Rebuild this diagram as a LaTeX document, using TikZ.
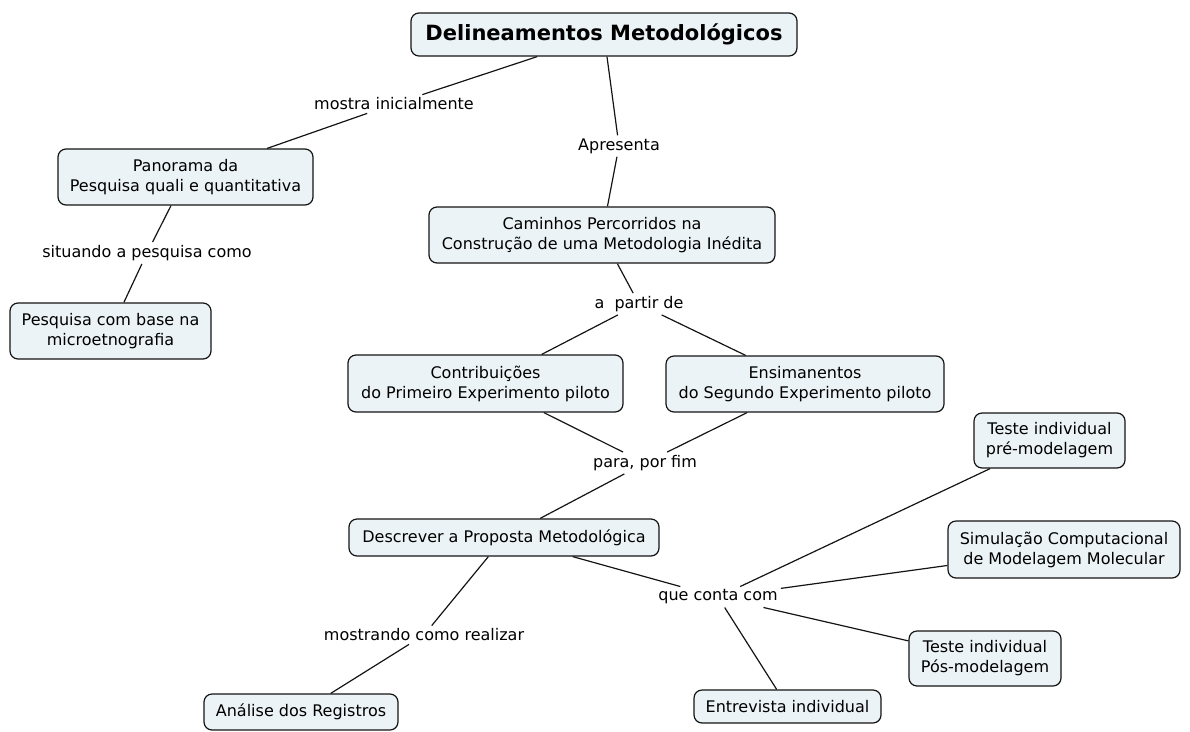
\documentclass[tikz,border=0pt]{standalone}
\usepackage{fontspec}
\setmainfont{DejaVu Sans}
\definecolor{conceptfill}{RGB}{236,243,246}
\definecolor{edgeink}{RGB}{20,20,20}
\begin{document}
\begin{tikzpicture}[x=1pt,y=-1pt,
  concept/.style={draw=edgeink, line width=1.2pt, rounded corners=8pt, fill=conceptfill,
    align=center, inner sep=0pt, font=\fontsize{16}{20}\selectfont},
  linkword/.style={align=center, inner sep=3pt, font=\fontsize{16}{20}\selectfont},
  conn/.style={line width=1.2pt, draw=edgeink}]
\useasboundingbox (0,0) rectangle (1190,731);

% concepts
\node[concept, minimum width=386pt, minimum height=43pt, font=\fontsize{21}{25}\selectfont\bfseries]
  (title) at (604,34.5) {Delineamentos Metodológicos};
\node[concept, minimum width=255pt, minimum height=56pt] (pan) at (185.5,177)
  {Panorama da\\Pesquisa quali e quantitativa};
\node[concept, minimum width=201pt, minimum height=56pt] (micro) at (110.5,331)
  {Pesquisa com base na\\microetnografia};
\node[concept, minimum width=346pt, minimum height=56pt] (cam) at (602,235)
  {Caminhos Percorridos na\\Construção de uma Metodologia Inédita};
\node[concept, minimum width=275pt, minimum height=57pt] (prim) at (485.5,383.5)
  {Contribuições\\do Primeiro Experimento piloto};
\node[concept, minimum width=278pt, minimum height=56pt] (seg) at (805,384)
  {Ensimanentos\\do Segundo Experimento piloto};
\node[concept, minimum width=310pt, minimum height=37pt] (desc) at (504,537.5)
  {Descrever a Proposta Metodológica};
\node[concept, minimum width=151pt, minimum height=55pt] (tpre) at (1049.5,440.5)
  {Teste individual\\pré-modelagem};
\node[concept, minimum width=232pt, minimum height=57pt] (sim) at (1064,549.5)
  {Simulação Computacional\\de Modelagem Molecular};
\node[concept, minimum width=152pt, minimum height=55pt] (tpos) at (985,658.5)
  {Teste individual\\Pós-modelagem};
\node[concept, minimum width=187pt, minimum height=33pt] (entr) at (787.5,706.5)
  {Entrevista individual};
\node[concept, minimum width=194pt, minimum height=36pt] (anal) at (301,712)
  {Análise dos Registros};

% linking phrases
\node[linkword] (lmostra) at (394,104) {mostra inicialmente};
\node[linkword] (lapres) at (619,146) {Apresenta};
\node[linkword] (lsitu) at (147,253) {situando a pesquisa como};
\node[linkword] (lpartir) at (639,304) {a~ partir de};
\node[linkword] (lpara) at (645,463) {para, por fim};
\node[linkword] (lconta) at (718,597) {que conta com};
\node[linkword] (lreal) at (424,635) {mostrando como realizar};

% connectors
\draw[conn] (title) -- (lmostra);
\draw[conn] (lmostra) -- (pan);
\draw[conn] (title) -- (lapres);
\draw[conn] (lapres) -- (cam);
\draw[conn] (pan) -- (lsitu);
\draw[conn] (lsitu) -- (micro);
\draw[conn] (cam) -- (lpartir);
\draw[conn] (lpartir) -- (prim);
\draw[conn] (lpartir) -- (seg);
\draw[conn] (prim) -- (lpara);
\draw[conn] (seg) -- (lpara);
\draw[conn] (lpara) -- (desc);
\draw[conn] (desc) -- (lconta);
\draw[conn] (lconta) -- (tpre);
\draw[conn] (lconta) -- (sim);
\draw[conn] (lconta) -- (tpos);
\draw[conn] (lconta) -- (entr);
\draw[conn] (desc) -- (lreal);
\draw[conn] (lreal) -- (anal);
\end{tikzpicture}
\end{document}
